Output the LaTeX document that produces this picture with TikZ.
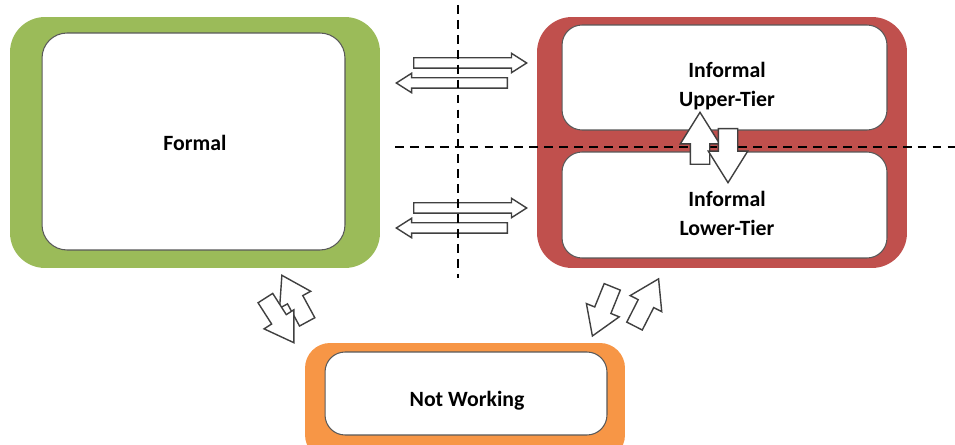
\documentclass[tikz,border=0pt]{standalone}
\usepackage{fontspec}
\setmainfont{Carlito}
\usetikzlibrary{shapes.arrows}

\definecolor{formalgreen}{RGB}{155,187,89}
\definecolor{informalred}{RGB}{192,80,77}
\definecolor{idleorange}{RGB}{247,150,70}

\begin{document}
\begin{tikzpicture}[x=0.02cm,y=-0.02cm,
	band/.style={rectangle,rounded corners=0.7cm,inner sep=0pt},
	panel/.style={rectangle,rounded corners=0.5cm,fill=white,draw=black!65,line width=0.6pt,inner sep=0pt},
	caption/.style={font=\bfseries\fontsize{12.4}{16.4}\selectfont,align=center},
	divider/.style={line width=1.3pt,dash pattern=on 5pt off 3.5pt},
	flow/.style={single arrow,draw=black!75,fill=white,line width=0.8pt,inner xsep=0pt,single arrow head indent=0pt,anchor=tail},
	sideflow/.style={flow,inner ysep=0.09cm,single arrow head extend=0.09cm,single arrow tip angle=65},
	tierflow/.style={flow,inner ysep=0.18cm,single arrow head extend=0.2cm,single arrow tip angle=64},
	moveflow/.style={flow,minimum height=1.06cm,inner ysep=0.16cm,single arrow head extend=0.18cm,single arrow tip angle=65}]
	\useasboundingbox (0,0) rectangle (955,445);

	%%  sectors  %%%%%%%%
	\node[band,fill=formalgreen,minimum width=7.4cm,minimum height=5.02cm] (formalband) at (195,142.5) {};
	\node[panel,minimum width=6.06cm,minimum height=4.34cm] (formal) at (193.5,141.5) {};
	\node[caption] (formallbl) at (195,143) {Formal};

	\node[band,fill=informalred,minimum width=7.4cm,minimum height=5.02cm] (informalband) at (722,142.5) {};
	\node[panel,rounded corners=0.4cm,minimum width=6.5cm,minimum height=2.1cm] (upper) at (724.5,77.5) {};
	\node[panel,rounded corners=0.4cm,minimum width=6.5cm,minimum height=2.12cm] (lower) at (724.5,205) {};
	\node[caption] (upperlbl) at (727,86) {Informal\\Upper-Tier};
	\node[caption] (lowerlbl) at (727,213.5) {Informal\\Lower-Tier};

	\node[band,fill=idleorange,rounded corners=0.5cm,minimum width=6.4cm,minimum height=2.34cm] (idleband) at (465,401.5) {};
	\node[panel,rounded corners=0.4cm,minimum width=5.64cm,minimum height=1.66cm] (idle) at (466,393.5) {};
	\node[caption] (idlelbl) at (467,401) {Not Working};

	%%  flows between formal and informal  %%%%%%%%
	\node[sideflow,minimum height=2.26cm] (toupper) at (413,63) {};
	\node[sideflow,minimum height=2.22cm,rotate=180] (fromupper) at (508,83) {};
	\node[sideflow,minimum height=2.26cm] (tolower) at (413,208) {};
	\node[sideflow,minimum height=2.22cm,rotate=180] (fromlower) at (508,228) {};

	%%  dividing lines  %%%%%%%%
	\coordinate (vtop) at (458,5);
	\coordinate (vbot) at (458,278);
	\coordinate (hleft) at (395,147);
	\coordinate (hright) at (955,147);
	\draw[divider] (vtop) -- (vbot);
	\draw[divider] (hleft) -- (hright);

	%%  moves between tiers  %%%%%%%%
	\node[tierflow,minimum height=1.04cm,rotate=90] (tierup) at (700,165) {};
	\node[tierflow,minimum height=1.08cm,rotate=-90] (tierdown) at (728,128) {};

	%%  moves in and out of work  %%%%%%%%
	\node[moveflow,rotate=118.5] (idletoformal) at (307.5,322.5) {};
	\node[moveflow,rotate=-57.4] (formaltoidle) at (265,297.5) {};
	\node[moveflow,rotate=-112] (informaltoidle) at (612.5,286.2) {};
	\node[moveflow,rotate=63] (idletoinformal) at (634.2,326.7) {};
\end{tikzpicture}
\end{document}
